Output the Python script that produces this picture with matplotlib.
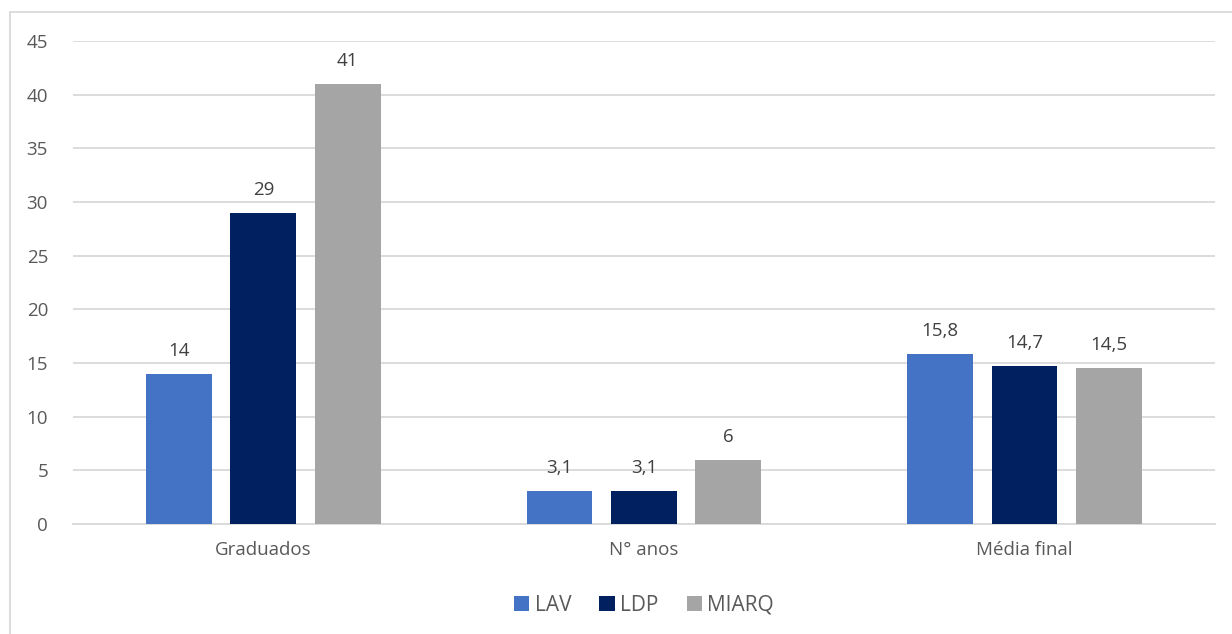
import numpy as np
import matplotlib.pyplot as plt
from matplotlib.patches import Rectangle

# Data
categories = ["Graduados", "N° anos", "Média final"]
series = ["LAV", "LDP", "MIARQ"]
lav = [14, 3.1, 15.8]
ldp = [29, 3.1, 14.7]
miarq = [41, 6, 14.5]
colors = ["#4472c4", "#002060", "#a5a5a5"]

plt.rcParams['font.family'] = ['Open Sans', 'DejaVu Sans']

fig = plt.figure(figsize=(12.32, 6.34), dpi=100)
ax = fig.add_axes([0.0593, 0.1735, 0.9267, 0.7618])

# outer chart border
fig.patches.append(Rectangle((10 / 1232, -0.05), 1.1, 1 - 12 / 634 + 0.05,
                             transform=fig.transFigure, fill=False,
                             edgecolor="#d9d9d9", linewidth=1.3))

x = np.arange(len(categories))
w = 0.173
step = 0.222
for i, (name, vals) in enumerate(zip(series, [lav, ldp, miarq])):
    pos = x + (i - 1) * step
    bars = ax.bar(pos, vals, w, color=colors[i], label=name, zorder=3)
    for b, v in zip(bars, vals):
        txt = f"{v:g}".replace(".", ",")
        ax.text(b.get_x() + b.get_width() / 2, v + 1.3, txt, ha="center",
                va="bottom", fontsize=13.5, color="#404040")

ax.set_xlim(-0.5, 2.5)
ax.set_ylim(0, 45)
ax.set_yticks(range(0, 46, 5))
ax.set_xticks(x)
ax.set_xticklabels(categories)
ax.yaxis.grid(True, color="#d9d9d9", linewidth=1.3, zorder=0)
for s in ["top", "right", "left"]:
    ax.spines[s].set_visible(False)
ax.spines["bottom"].set_color("#d9d9d9")
ax.spines["bottom"].set_linewidth(1.3)
ax.tick_params(axis="both", length=0, labelsize=13.5, colors="#595959")
ax.tick_params(axis="y", pad=18)
ax.tick_params(axis="x", pad=12)

ax.legend(loc="center", bbox_to_anchor=(0.5, -0.168), ncol=3, frameon=False,
          fontsize=15, labelcolor="#595959", handlelength=0.75, handleheight=0.75,
          handletextpad=0.25, columnspacing=1.35)

fig.savefig("out.png", dpi=100)
